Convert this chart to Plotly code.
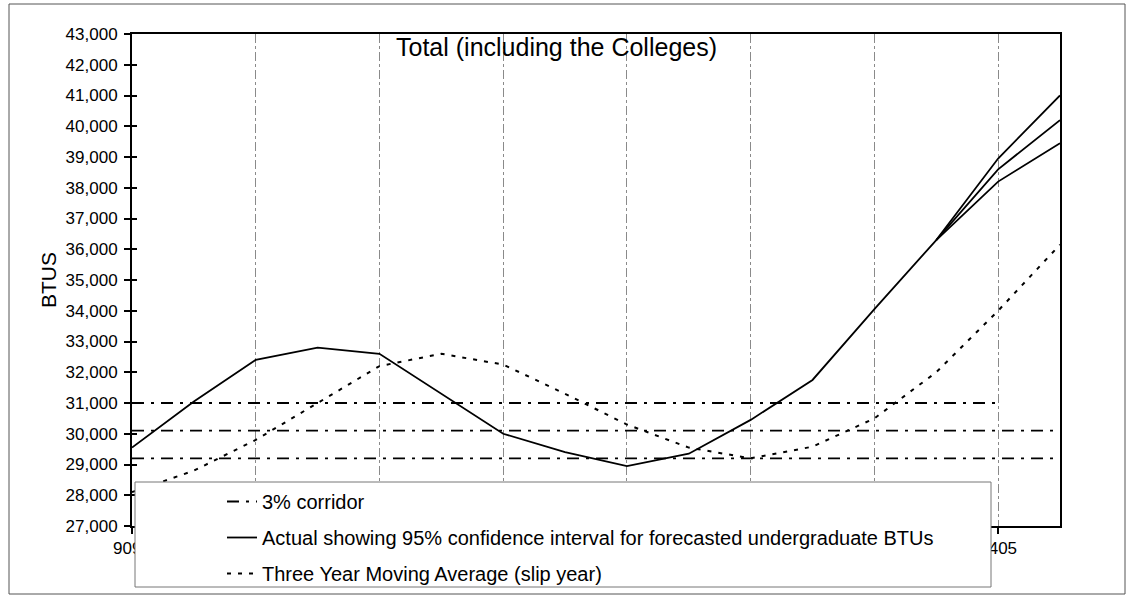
import plotly.graph_objects as go

# ---- data ----
categories = ["9091", "9192", "9293", "9394", "9495", "9596", "9697", "9798",
              "9899", "9900", "0001", "0102", "0203", "0304", "0405", "0506"]
tick_positions = ["9091", "9293", "9495", "9697", "9899", "0001", "0203", "0405"]
# only the first and last tick labels are visible; the others sit under the legend
tick_texts = ["9091", "", "", "", "", "", "", "0405"]

actual = [29550, 31050, 32400, 32800, 32600, 31300, 30000, 29400,
          28950, 29350, 30450, 31750, 34050, 36300, 38600, 40200]
upper_ci = [None, None, None, None, None, None, None, None,
            None, None, None, None, None, 36300, 38950, 41000]
lower_ci = [None, None, None, None, None, None, None, None,
            None, None, None, None, None, 36300, 38200, 39450]
moving_avg = [28100, 28800, 29800, 31000, 32200, 32600, 32250, 31300,
              30300, 29550, 29200, 29580, 30500, 32000, 34000, 36150]
corridor_high = [31000, 31000, 31000, 31000, 31000, 31000, 31000, 31000,
                 31000, 31000, 31000, 31000, 31000, 31000, 31000, None]
corridor_mid = [30100, 30100, 30100, 30100, 30100, 30100, 30100, 30100,
                30100, 30100, 30100, 30100, 30100, 30100, 30100, 30100]
corridor_low = [29200, 29200, 29200, 29200, 29200, 29200, 29200, 29200,
                29200, 29200, 29200, 29200, 29200, 29200, 29200, 29200]

FONT = "Liberation Sans, Arial, sans-serif"
CORR_DASH = "12px,7px,3px,7px"
MA_DASH = "4px,7px"

fig = go.Figure()

for i, ys in enumerate([corridor_high, corridor_mid, corridor_low]):
    fig.add_trace(go.Scatter(
        x=categories, y=ys, mode="lines", name="3% corridor",
        legendgroup="corr", showlegend=(i == 0), legendrank=1,
        line=dict(color="black", width=1.8, dash=CORR_DASH),
        hoverinfo="skip"))

fig.add_trace(go.Scatter(
    x=categories, y=actual, mode="lines",
    name="Actual showing 95% confidence interval for forecasted undergraduate BTUs",
    legendgroup="act", legendrank=2, line=dict(color="black", width=1.8)))
for ys in (upper_ci, lower_ci):
    fig.add_trace(go.Scatter(
        x=categories, y=ys, mode="lines", legendgroup="act", showlegend=False,
        legendrank=2, line=dict(color="black", width=1.8)))

fig.add_trace(go.Scatter(
    x=categories, y=moving_avg, mode="lines",
    name="Three Year Moving Average (slip year)", legendgroup="ma", legendrank=3,
    line=dict(color="black", width=2, dash=MA_DASH)))

# helper trace for the inner half of the crossing tick marks
fig.add_trace(go.Scatter(x=[categories[0]], y=[None], yaxis="y2",
                         showlegend=False, hoverinfo="skip"))

W_PLOT = 928.0
H_PLOT = 492.0
L, T = 132, 34


def px(x):
    return (x - L) / W_PLOT


def py(y):
    return (T + H_PLOT - y) / H_PLOT


fig.update_layout(
    width=1131, height=597,
    margin=dict(l=132, r=71, t=34, b=71, autoexpand=False),
    paper_bgcolor="white", plot_bgcolor="white",
    font=dict(family=FONT, color="black"),
    showlegend=True,
    legend=dict(
        x=px(222), y=py(482), xanchor="left", yanchor="top",
        bgcolor="rgba(0,0,0,0)", borderwidth=0,
        font=dict(size=20, family=FONT, color="black"),
        tracegroupgap=7, traceorder="grouped"),
    xaxis=dict(
        type="category", categoryorder="array", categoryarray=categories,
        range=[0, 15], tickmode="array", tickvals=tick_positions, ticktext=tick_texts,
        showline=True, linecolor="black", linewidth=1.5, mirror=True,
        ticks="outside", ticklen=6, tickwidth=1.5, tickcolor="black",
        showgrid=True, gridcolor="#8a8a8a", gridwidth=1, griddash="dashdot",
        tickfont=dict(size=17, family=FONT, color="black"), zeroline=False),
    yaxis=dict(
        range=[27000, 43000], dtick=1000, tickformat=",",
        showline=True, linecolor="black", linewidth=2, mirror=True,
        ticks="outside", ticklen=6, tickwidth=1.5, tickcolor="black",
        ticklabelstandoff=3,
        showgrid=False, zeroline=False,
        tickfont=dict(size=17, family=FONT, color="black"),
        title=dict(text="BTUS", standoff=3, font=dict(size=21, family=FONT))),
    yaxis2=dict(
        overlaying="y", side="left", range=[27000, 43000], dtick=1000,
        ticks="inside", ticklen=5, tickwidth=1.5, tickcolor="black",
        showticklabels=False, showgrid=False, zeroline=False, showline=False),
    shapes=[
        # legend box
        dict(type="rect", xref="paper", yref="paper",
             x0=px(135), x1=px(991), y0=py(587), y1=py(482),
             fillcolor="white", line=dict(color="#777777", width=1), layer="above"),
        # outer chart border
        dict(type="rect", xref="paper", yref="paper",
             x0=px(9), x1=px(1125), y0=py(594), y1=py(4),
             fillcolor="rgba(0,0,0,0)", line=dict(color="#555555", width=1),
             layer="above"),
    ],
    annotations=[
        dict(text="Total (including the Colleges)", xref="paper", yref="paper",
             x=px(556), y=py(47), xanchor="center", yanchor="middle",
             showarrow=False, font=dict(size=25, family=FONT, color="black")),
    ],
)

fig.write_html("out.html", config={"displayModeBar": False},
               post_script="document.body.style.margin='0';document.body.style.overflow='hidden';")
